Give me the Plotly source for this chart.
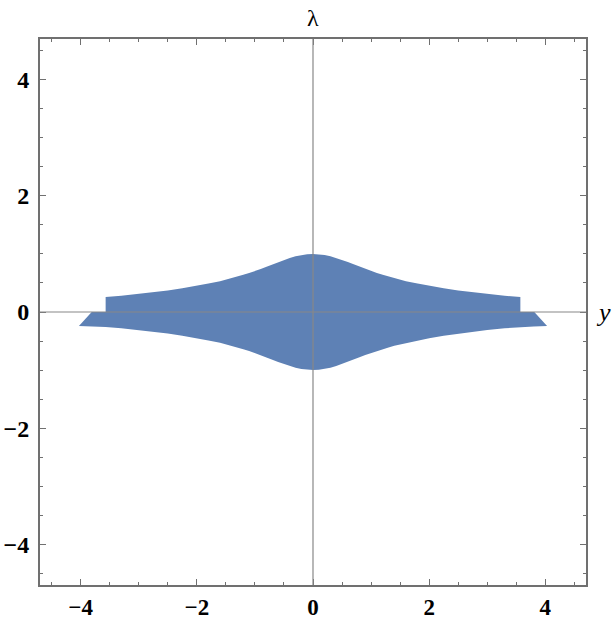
import plotly.graph_objects as go

# Half-profile of the region boundary (x >= 0)
prof_x = [0.0, 0.1, 0.2, 0.3, 0.4, 0.5, 0.6, 0.7, 0.8, 0.9, 1.0, 1.1, 1.2, 1.3, 1.4, 1.6, 1.8,
          2.0, 2.25, 2.5, 2.75, 3.0, 3.3, 3.57, 3.8, 4.03]
upper_h = [1.0, 0.995, 0.98, 0.96, 0.93, 0.89, 0.86, 0.82, 0.78, 0.74, 0.70, 0.67, 0.64, 0.61, 0.58, 0.53, 0.49,
           0.45, 0.41, 0.37, 0.34, 0.31, 0.28, 0.26, None, None]
lower_h = [-1.0, -0.995, -0.98, -0.96, -0.93, -0.89, -0.86, -0.82, -0.78, -0.74, -0.70, -0.67, -0.64, -0.61, -0.58,
           -0.53, -0.49, -0.45, -0.41, -0.37, -0.34, -0.31, -0.28, -0.26, -0.25, -0.24]
# Step / slanted edges joining the two pieces at the ends
inner_edge_x = 3.57
outer_edge_x = 3.81

tick_vals = [-4, -2, 0, 2, 4]
axis_range = [-4.7, 4.7]

# build polygon (upper curve left->right, lower curve right->left)
up = [(x, y) for x, y in zip(prof_x, upper_h) if y is not None]
upper_pts = [(-x, y) for x, y in reversed(up[1:])] + up
low = list(zip(prof_x, lower_h))
lower_pts_lr = [(-x, y) for x, y in reversed(low[1:])] + low
lower_pts = list(reversed(lower_pts_lr))

pts = ([(-inner_edge_x, 0)] + upper_pts + [(inner_edge_x, 0), (outer_edge_x, 0)]
       + lower_pts + [(-outer_edge_x, 0), (-inner_edge_x, 0)])
xs = [p[0] for p in pts]
ys = [p[1] for p in pts]

fig = go.Figure()
fig.add_trace(go.Scatter(x=xs, y=ys, fill="toself", mode="lines",
                         line=dict(width=0, color="#5e81b5"),
                         fillcolor="#5e81b5", hoverinfo="skip"))

fig.add_shape(type="line", xref="x", yref="paper", x0=0, x1=0, y0=0, y1=1,
              line=dict(color="#888888", width=1.2), layer="above")
fig.add_shape(type="line", xref="paper", yref="y", x0=0, x1=1, y0=0, y1=0,
              line=dict(color="#888888", width=1.2), layer="above")

axis_common = dict(
    range=axis_range, tickvals=tick_vals, showgrid=False, zeroline=False,
    showline=True, linecolor="#707070", linewidth=2, mirror="allticks",
    ticks="inside", ticklen=6, tickwidth=1.2, tickcolor="#707070",
    layer="above traces", automargin=False,
    minor=dict(dtick=0.5, ticks="inside", ticklen=3, tickwidth=1, tickcolor="#707070", showgrid=False),
)
fig.update_xaxes(ticklabelstandoff=0,
                 tickfont=dict(family="Liberation Serif", size=23, color="black", weight="bold"),
                 **axis_common)
fig.update_yaxes(ticklabelstandoff=4,
                 tickfont=dict(family="Liberation Serif", size=24, color="black", weight="bold"),
                 **axis_common)

fig.add_annotation(x=0, y=1, xref="x", yref="paper", text="λ", showarrow=False,
                   yanchor="bottom", yshift=6, font=dict(family="Liberation Serif", size=24, color="black"))
fig.add_annotation(x=1, y=0, xref="paper", yref="y", text="<i>y</i>", showarrow=False,
                   xanchor="left", xshift=8, font=dict(family="Liberation Serif", size=26, color="black"))

fig.update_layout(width=615, height=623, margin=dict(l=40, r=29, t=39, b=38),
                  plot_bgcolor="white", paper_bgcolor="white", showlegend=False)
fig.write_html("out.html", config={"displayModeBar": False},
               post_script="document.body.style.margin='0';document.body.style.overflow='hidden';")
